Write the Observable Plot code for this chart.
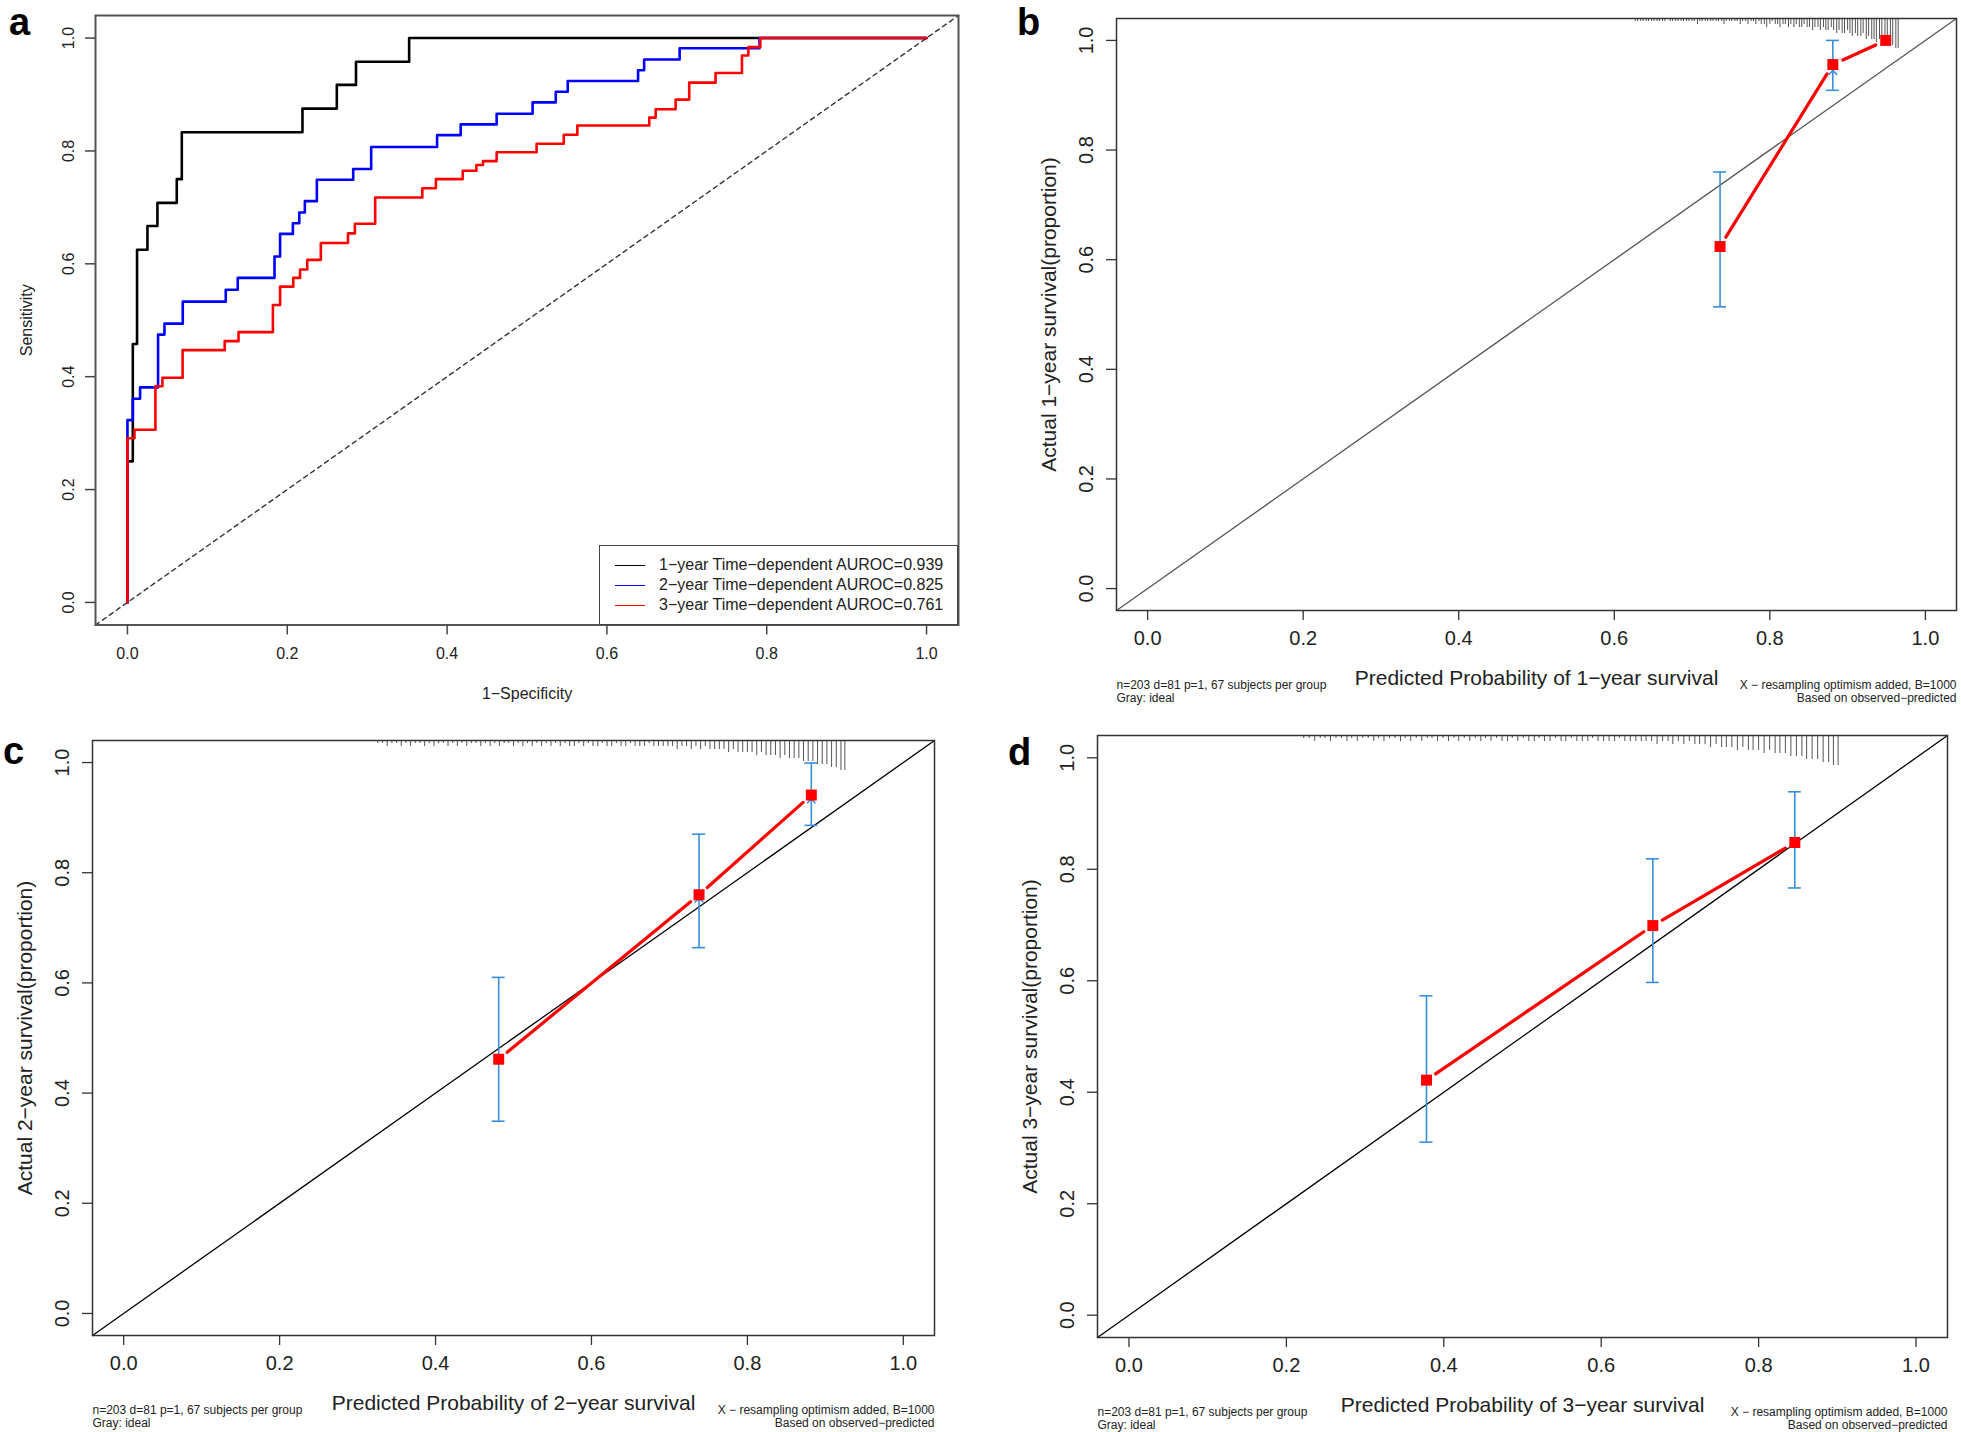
<!DOCTYPE html>
<html><head><meta charset="utf-8">
<script src="https://cdn.jsdelivr.net/npm/d3@7"></script>
<script src="https://cdn.jsdelivr.net/npm/@observablehq/plot@0.6"></script>
<style>
body{margin:0;background:#fff;font-family:'Liberation Sans',Arial,Helvetica,sans-serif;}
#root{position:relative;width:1961px;height:1432px;overflow:hidden;background:#fff;}
.panel{position:absolute;}
.letter{position:absolute;font-weight:bold;font-size:38px;line-height:1;color:#000;}
.legend{position:absolute;border:1.5px solid #444;box-sizing:border-box;background:#fff;font-size:16px;color:#222;}
.legend .row{position:absolute;left:0;height:20px;white-space:nowrap;}
.legend .sw{position:absolute;left:15px;top:9.5px;width:30px;height:0;border-top:1.3px solid;}
.legend .tx{position:absolute;left:59px;top:0;line-height:20px;}
</style></head><body><div id="root"></div>
<script>
const FONT = "'Liberation Sans', Arial, Helvetica, sans-serif";
const ticks = [0, 0.2, 0.4, 0.6, 0.8, 1.0];
const domain = [-0.04, 1.04];
const fmt = d3.format(".1f");

// ---- Panel a: time-dependent ROC (step vertices: right end of each horizontal run)
const rocLabels = ["1\u2212year Time\u2212dependent AUROC=0.939", "2\u2212year Time\u2212dependent AUROC=0.825", "3\u2212year Time\u2212dependent AUROC=0.761"];
const rocColors = ["#000000", "#0000FF", "#FF0000"];
const roc1Fpr = [0, 0.0067, 0.012, 0.025, 0.0375, 0.0617, 0.068, 0.219, 0.262, 0.286, 0.3525, 1];
const roc1Tpr = [0, 0.25, 0.458, 0.625, 0.667, 0.708, 0.75, 0.833, 0.875, 0.917, 0.958, 1];
const roc2Fpr = [0, 0.0067, 0.0158, 0.0383, 0.0463, 0.0692, 0.123, 0.138, 0.184, 0.191, 0.207, 0.215, 0.222, 0.237, 0.2825, 0.305, 0.3875, 0.417, 0.462, 0.507, 0.536, 0.551, 0.639, 0.6466, 0.691, 0.791, 1];
const roc2Tpr = [0, 0.323, 0.361, 0.381, 0.4746, 0.494, 0.533, 0.554, 0.575, 0.613, 0.653, 0.672, 0.691, 0.711, 0.749, 0.768, 0.807, 0.828, 0.847, 0.866, 0.886, 0.905, 0.924, 0.943, 0.962, 0.982, 1];
const roc3Fpr = [0, 0.00875, 0.035, 0.04375, 0.069, 0.1217, 0.139, 0.182, 0.191, 0.2075, 0.216, 0.225, 0.242, 0.276, 0.2846, 0.31, 0.369, 0.386, 0.4196, 0.4367, 0.445, 0.462, 0.512, 0.546, 0.563, 0.653, 0.661, 0.686, 0.703, 0.736, 0.769, 0.777, 0.792, 1];
const roc3Tpr = [0, 0.291, 0.306, 0.383, 0.398, 0.447, 0.463, 0.479, 0.527, 0.5595, 0.575, 0.590, 0.607, 0.637, 0.654, 0.671, 0.7175, 0.734, 0.75, 0.765, 0.775, 0.782, 0.7976, 0.8127, 0.8286, 0.845, 0.859, 0.874, 0.891, 0.921, 0.938, 0.969, 0.984, 1];

// ---- Panels b-d: calibration
const cal1Pred = [0.736, 0.881, 0.949];
const cal1Obs  = [0.624, 0.956, 1.0];
const cal1Lo   = [0.514, 0.909, null];
const cal1Hi   = [0.760, 1.0, null];
const cal1Corr = [null, 0.945, null];

const cal2Pred = [0.481, 0.738, 0.882];
const cal2Obs  = [0.4615, 0.760, 0.941];
const cal2Lo   = [0.349, 0.664, 0.886];
const cal2Hi   = [0.610, 0.870, 0.999];
const cal2Corr = [null, 0.754, 0.934];

const cal3Pred = [0.378, 0.6656, 0.846];
const cal3Obs  = [0.4217, 0.699, 0.848];
const cal3Lo   = [0.3105, 0.597, 0.7665];
const cal3Hi   = [0.573, 0.8187, 0.939];
const cal3Corr = [null, null, null];

// spike histogram of predicted values: [predicted, relative frequency]
const rug1 = [[0.627,1],[0.630,1],[0.634,1],[0.637,1],[0.641,1],[0.644,1],[0.648,1],[0.651,1],[0.655,1],[0.658,1],[0.662,1],[0.665,1],[0.672,1],[0.675,1],[0.679,1],[0.682,1],[0.686,1],[0.689,1],[0.693,1],[0.696,1],[0.700,1],[0.703,1],[0.707,2],[0.710,1],[0.713,1],[0.717,1],[0.720,1],[0.724,1],[0.727,1],[0.731,1],[0.734,1],[0.738,1],[0.741,2],[0.744,1],[0.748,1],[0.751,1],[0.755,1],[0.758,1],[0.762,2],[0.765,1],[0.769,1],[0.772,2],[0.776,1],[0.779,1],[0.782,2],[0.786,1],[0.789,2],[0.793,2],[0.796,3],[0.800,2],[0.803,1],[0.807,2],[0.810,2],[0.813,3],[0.817,2],[0.820,2],[0.824,3],[0.827,2],[0.831,3],[0.834,2],[0.838,3],[0.841,3],[0.844,2],[0.848,3],[0.851,3],[0.855,4],[0.858,3],[0.862,3],[0.865,4],[0.869,3],[0.872,4],[0.875,4],[0.879,3],[0.882,4],[0.886,5],[0.889,4],[0.893,5],[0.896,5],[0.900,4],[0.903,5],[0.906,6],[0.910,5],[0.913,6],[0.917,6],[0.920,5],[0.924,7],[0.927,6],[0.931,7],[0.934,7],[0.937,8],[0.941,7],[0.944,8],[0.948,8],[0.951,9],[0.955,8],[0.958,9],[0.962,10],[0.965,10]];
const rug2 = [[0.326,1],[0.332,1],[0.338,2],[0.344,1],[0.350,1],[0.356,2],[0.362,1],[0.368,2],[0.374,1],[0.380,1],[0.386,2],[0.392,1],[0.398,2],[0.404,1],[0.410,1],[0.416,2],[0.422,1],[0.428,2],[0.434,1],[0.440,2],[0.446,1],[0.452,1],[0.458,2],[0.464,1],[0.470,2],[0.476,1],[0.482,2],[0.488,1],[0.494,1],[0.500,2],[0.506,1],[0.512,2],[0.518,1],[0.524,2],[0.530,1],[0.536,2],[0.542,1],[0.548,2],[0.554,1],[0.560,2],[0.566,1],[0.572,2],[0.578,2],[0.584,1],[0.590,2],[0.596,1],[0.602,2],[0.608,2],[0.614,1],[0.620,2],[0.626,2],[0.632,1],[0.638,2],[0.644,2],[0.650,1],[0.656,2],[0.662,2],[0.668,2],[0.674,1],[0.680,2],[0.686,2],[0.692,2],[0.698,2],[0.704,2],[0.710,3],[0.716,2],[0.722,2],[0.728,3],[0.734,2],[0.740,3],[0.746,2],[0.752,3],[0.758,3],[0.764,3],[0.770,3],[0.776,4],[0.782,3],[0.788,4],[0.794,4],[0.800,4],[0.806,4],[0.812,5],[0.818,4],[0.824,5],[0.830,5],[0.836,5],[0.842,6],[0.848,5],[0.854,6],[0.860,6],[0.866,6],[0.872,7],[0.878,7],[0.884,7],[0.890,8],[0.896,8],[0.902,8],[0.908,9],[0.914,9],[0.920,10],[0.925,10]];
const rug3 = [[0.222,1],[0.229,1],[0.236,2],[0.243,1],[0.249,1],[0.256,2],[0.263,1],[0.270,1],[0.277,2],[0.283,1],[0.290,2],[0.297,1],[0.304,1],[0.311,2],[0.317,1],[0.324,2],[0.331,1],[0.338,1],[0.345,2],[0.351,1],[0.358,2],[0.365,1],[0.372,2],[0.379,1],[0.385,1],[0.392,2],[0.399,1],[0.406,2],[0.413,1],[0.419,2],[0.426,1],[0.433,2],[0.440,1],[0.447,2],[0.453,1],[0.460,2],[0.467,1],[0.474,2],[0.481,2],[0.487,1],[0.494,2],[0.501,1],[0.508,2],[0.515,2],[0.521,1],[0.528,2],[0.535,2],[0.542,1],[0.549,2],[0.555,2],[0.562,1],[0.569,2],[0.576,2],[0.583,2],[0.589,1],[0.596,2],[0.603,2],[0.610,2],[0.617,2],[0.623,1],[0.630,2],[0.637,2],[0.644,2],[0.651,2],[0.657,2],[0.664,2],[0.671,3],[0.678,2],[0.685,2],[0.691,3],[0.698,2],[0.705,3],[0.712,2],[0.719,3],[0.725,3],[0.732,3],[0.739,4],[0.746,3],[0.753,4],[0.759,4],[0.766,4],[0.773,5],[0.780,4],[0.787,5],[0.793,5],[0.800,5],[0.807,6],[0.814,5],[0.821,6],[0.827,6],[0.834,6],[0.841,7],[0.848,7],[0.855,7],[0.861,8],[0.868,8],[0.875,8],[0.882,9],[0.889,9],[0.895,10],[0.901,10]];

const footLeft = ["n=203 d=81 p=1, 67 subjects per group", "Gray: ideal"];
const footRight = ["X \u2212 resampling optimism added, B=1000", "Based on observed\u2212predicted"];

const RED = "#FF0000", BLUE = "#3A8EDB";
const SPIKE_PX = 3;

const root = document.getElementById("root");
function place(node, left, top) {
  const d = document.createElement("div");
  d.className = "panel"; d.style.left = left + "px"; d.style.top = top + "px";
  d.appendChild(node); root.appendChild(d);
}
function letter(t, left, top) {
  const d = document.createElement("div");
  d.className = "letter"; d.textContent = t;
  d.style.left = left + "px"; d.style.top = top + "px";
  root.appendChild(d);
}

// ---- Panel a
(function () {
  const width = 980, height = 715, ml = 95, mr = 22, mt = 15, mb = 90.5;
  const series = [[roc1Fpr, roc1Tpr], [roc2Fpr, roc2Tpr], [roc3Fpr, roc3Tpr]];
  const lines = series.map(([f, t], k) => Plot.line(f.map((v, i) => ({fpr: v, tpr: t[i]})), {
    x: "fpr", y: "tpr", curve: "step-before", stroke: rocColors[k], strokeWidth: 2.6
  }));
  const chart = Plot.plot({
    width, height, marginLeft: ml, marginRight: mr, marginTop: mt, marginBottom: mb,
    x: {domain}, y: {domain},
    style: {fontFamily: FONT, color: "#222", background: "transparent", overflow: "visible"},
    marks: [
      Plot.line(domain.map(v => ({x: v, y: v})), {x: "x", y: "y", stroke: "#333", strokeWidth: 1.4, strokeDasharray: "4.5,4"}),
      ...lines,
      Plot.frame({stroke: "#555", strokeWidth: 2}),
      Plot.axisX({ticks, tickSize: 10, tickFormat: () => "", stroke: "#444", strokeWidth: 1.5}),
      Plot.axisY({ticks, tickSize: 10, tickFormat: () => "", stroke: "#444", strokeWidth: 1.5}),
      Plot.text(ticks, {x: d => d, text: d => fmt(d), frameAnchor: "bottom", dy: 28.5, fontSize: 16, lineAnchor: "middle"}),
      Plot.text(ticks, {y: d => d, text: d => fmt(d), frameAnchor: "left", dx: -27, rotate: -90, fontSize: 16, lineAnchor: "middle", textAnchor: "middle"}),
      Plot.text(["Sensitivity"], {text: d => d, frameAnchor: "left", dx: -69, rotate: -90, fontSize: 16, lineAnchor: "middle", textAnchor: "middle"}),
      Plot.text(["1\u2212Specificity"], {text: d => d, frameAnchor: "bottom", dy: 68.5, fontSize: 16, lineAnchor: "middle", textAnchor: "middle"})
    ]
  });
  place(chart, 0, 0);
  // legend
  const lg = document.createElement("div");
  lg.className = "legend";
  lg.style.left = "599px"; lg.style.top = "545px"; lg.style.width = "359px"; lg.style.height = "80px";
  rocLabels.forEach((lab, k) => {
    const r = document.createElement("div");
    r.className = "row"; r.style.top = (9 + 20 * k) + "px"; r.style.width = "350px";
    const sw = document.createElement("div"); sw.className = "sw"; sw.style.borderTopColor = rocColors[k];
    const tx = document.createElement("div"); tx.className = "tx"; tx.textContent = lab;
    r.appendChild(sw); r.appendChild(tx); lg.appendChild(r);
  });
  root.appendChild(lg);
})();

// ---- Calibration panels
function calPanel(o) {
  const {width, height, ml, mr, mt, mb, pred, obs, lo, hi, corr, rug, ideal, xTitle, yTitle} = o;
  const pxY = (height - mt - mb) / (domain[1] - domain[0]);
  const pxX = (width - ml - mr) / (domain[1] - domain[0]);
  const pts = pred.map((p, i) => ({x: p, y: obs[i], lo: lo[i], hi: hi[i], c: corr[i]}));
  const segs = pts.slice(1).map((d, i) => ({x1: pts[i].x, y1: pts[i].y, x2: d.x, y2: d.y}));
  const bars = pts.filter(d => d.lo != null);
  const crosses = pts.filter(d => d.c != null);
  const cap = 6.5 / pxX;
  const spikes = rug.map(([x, n]) => ({x, n}));
  return Plot.plot({
    width, height, marginLeft: ml, marginRight: mr, marginTop: mt, marginBottom: mb,
    x: {domain}, y: {domain},
    style: {fontFamily: FONT, color: "#222", background: "transparent", overflow: "visible"},
    marks: [
      Plot.line(domain.map(v => ({x: v, y: v})), {x: "x", y: "y", stroke: ideal, strokeWidth: 1.3}),
      Plot.ruleX(spikes, {x: "x", y1: domain[1], y2: d => domain[1] - d.n * SPIKE_PX / pxY, stroke: "#555", strokeWidth: 1}),
      Plot.ruleX(bars, {x: "x", y1: "lo", y2: "hi", stroke: BLUE, strokeWidth: 1.6}),
      Plot.ruleY(bars, {y: "lo", x1: d => d.x - cap, x2: d => d.x + cap, stroke: BLUE, strokeWidth: 1.6}),
      Plot.ruleY(bars, {y: "hi", x1: d => d.x - cap, x2: d => d.x + cap, stroke: BLUE, strokeWidth: 1.6}),
      Plot.arrow(segs, {x1: "x1", y1: "y1", x2: "x2", y2: "y2", stroke: RED, strokeWidth: 3.2, headLength: 0, insetStart: 11, insetEnd: 11, bend: 0}),
      Plot.dot(crosses, {x: "x", y: "c", symbol: "times", stroke: BLUE, strokeWidth: 1.5, r: 4}),
      Plot.dot(pts, {x: "x", y: "y", symbol: "square", fill: RED, r: 6.2}),
      Plot.frame({stroke: "#333", strokeWidth: 1.5}),
      Plot.axisX({ticks, tickSize: 10, tickFormat: () => "", stroke: "#333", strokeWidth: 1.3}),
      Plot.axisY({ticks, tickSize: 10, tickFormat: () => "", stroke: "#333", strokeWidth: 1.3}),
      Plot.text(ticks, {x: d => d, text: d => fmt(d), frameAnchor: "bottom", dy: 28.5, fontSize: 20, lineAnchor: "middle"}),
      Plot.text(ticks, {y: d => d, text: d => fmt(d), frameAnchor: "left", dx: -29.5, rotate: -90, fontSize: 20, lineAnchor: "middle", textAnchor: "middle"}),
      Plot.text([yTitle], {text: d => d, frameAnchor: "left", dx: -67, rotate: -90, fontSize: 21, lineAnchor: "middle", textAnchor: "middle"}),
      Plot.text([xTitle], {text: d => d, frameAnchor: "bottom", dy: 67.5, fontSize: 21, lineAnchor: "middle", textAnchor: "middle"}),
      Plot.text([footLeft[0]], {text: d => d, frameAnchor: "bottom-left", dy: 74.5, fontSize: 12, textAnchor: "start", lineAnchor: "middle"}),
      Plot.text([footLeft[1]], {text: d => d, frameAnchor: "bottom-left", dy: 88, fontSize: 12, textAnchor: "start", lineAnchor: "middle"}),
      Plot.text([footRight[0]], {text: d => d, frameAnchor: "bottom-right", dy: 74.5, fontSize: 12, textAnchor: "end", lineAnchor: "middle"}),
      Plot.text([footRight[1]], {text: d => d, frameAnchor: "bottom-right", dy: 88, fontSize: 12, textAnchor: "end", lineAnchor: "middle"})
    ]
  });
}

place(calPanel({width: 981, height: 715, ml: 136, mr: 5, mt: 18, mb: 105,
  pred: cal1Pred, obs: cal1Obs, lo: cal1Lo, hi: cal1Hi, corr: cal1Corr, rug: rug1, ideal: "#555",
  xTitle: "Predicted Probability of 1\u2212year survival", yTitle: "Actual 1\u2212year survival(proportion)"}), 980, 0);
place(calPanel({width: 980, height: 717, ml: 92, mr: 46, mt: 25, mb: 97,
  pred: cal2Pred, obs: cal2Obs, lo: cal2Lo, hi: cal2Hi, corr: cal2Corr, rug: rug2, ideal: "#000",
  xTitle: "Predicted Probability of 2\u2212year survival", yTitle: "Actual 2\u2212year survival(proportion)"}), 0, 715);
place(calPanel({width: 981, height: 717, ml: 117, mr: 14, mt: 20, mb: 95,
  pred: cal3Pred, obs: cal3Obs, lo: cal3Lo, hi: cal3Hi, corr: cal3Corr, rug: rug3, ideal: "#000",
  xTitle: "Predicted Probability of 3\u2212year survival", yTitle: "Actual 3\u2212year survival(proportion)"}), 980, 715);

letter("a", 9, 3);
letter("b", 1017, 3);
letter("c", 3, 732);
letter("d", 1008, 733);
</script></body></html>
